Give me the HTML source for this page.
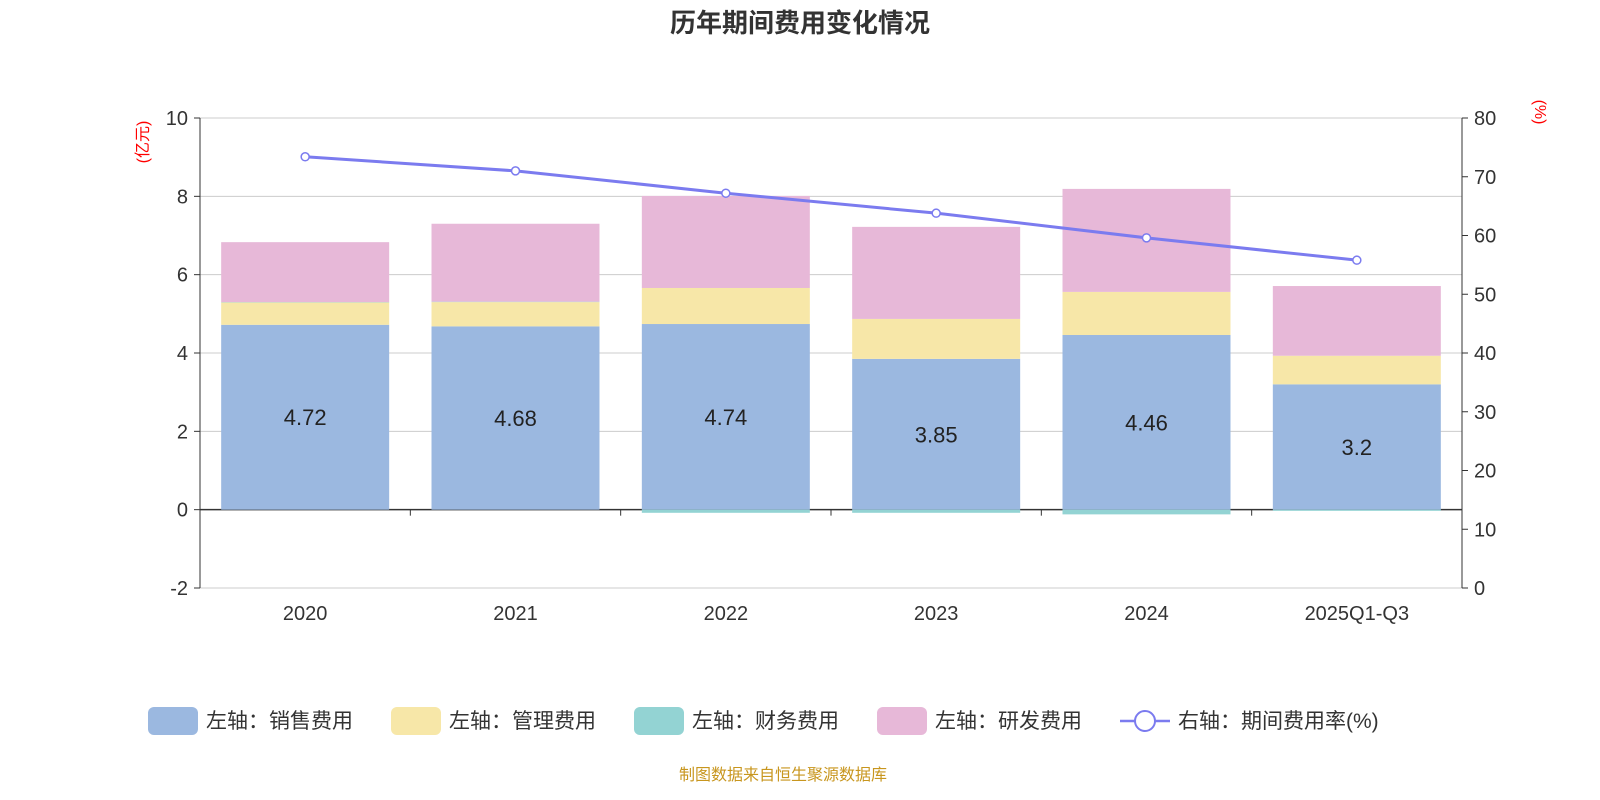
<!DOCTYPE html>
<html><head><meta charset="utf-8">
<style>
html,body{margin:0;padding:0;background:#fff;width:1600px;height:800px;overflow:hidden}
svg{display:block;font-family:"Liberation Sans","Noto Sans CJK SC",sans-serif}
</style></head>
<body>
<svg id="chart" width="1600" height="800"></svg>
<script>
const categories=["2020","2021","2022","2023","2024","2025Q1-Q3"];
const salesExp=[4.72,4.68,4.74,3.85,4.46,3.2];
const mgmtExp=[0.57,0.62,0.92,1.02,1.10,0.73];
const finExp=[0.01,0.01,-0.08,-0.08,-0.12,-0.03];
const rdExp=[1.53,1.99,2.35,2.35,2.63,1.78];
const expRate=[73.4,71.0,67.2,63.8,59.6,55.8];
const leftTicks=[-2,0,2,4,6,8,10];
const rightTicks=[0,10,20,30,40,50,60,70,80];

const NS="http://www.w3.org/2000/svg";
const svg=document.getElementById('chart');
function mk(tag,attrs,parent,text){const e=document.createElementNS(NS,tag);for(const k in attrs)e.setAttribute(k,attrs[k]);if(text!==undefined)e.textContent=text;(parent||svg).appendChild(e);return e;}
const X0=200,X1=1462,TOP=118,BOT=588;
const yL=v=>TOP+(10-v)/12*(BOT-TOP);
const yR=v=>BOT-v/80*(BOT-TOP);
const band=(X1-X0)/categories.length;
const xc=i=>X0+band*(i+0.5);
const barW=168;

let t=mk('text',{x:800,y:32,'text-anchor':'middle','font-size':26,'font-weight':'bold',fill:'#333'},svg,'历年期间费用变化情况');


// grid + left ticks
leftTicks.forEach(v=>{
 const g=mk('line',{x1:X0,x2:X1,y1:yL(v),y2:yL(v),stroke:v===0?'#333':'#ccc','stroke-width':v===0?1.5:1});
 
 mk('line',{x1:X0-6,x2:X0,y1:yL(v),y2:yL(v),stroke:'#333'});
 const l=mk('text',{x:X0-12,y:yL(v)+7,'text-anchor':'end','font-size':20,fill:'#333'},svg,String(v));
 
});
rightTicks.forEach(v=>{
 mk('line',{x1:X1,x2:X1+6,y1:yR(v),y2:yR(v),stroke:'#333'});
 const l=mk('text',{x:X1+12,y:yR(v)+7,'font-size':20,fill:'#333'},svg,String(v));
 
});
mk('line',{x1:X0,x2:X0,y1:TOP,y2:BOT,stroke:'#333'});
mk('line',{x1:X1,x2:X1,y1:TOP,y2:BOT,stroke:'#333'});
for(let i=0;i<=categories.length;i++)mk('line',{x1:X0+band*i,x2:X0+band*i,y1:yL(0),y2:yL(0)+6,stroke:'#333'});
let a=mk('text',{x:0,y:0,'font-size':16,fill:'red','text-anchor':'middle',transform:'translate(148,142) rotate(-90)'},svg,'(亿元)');

a=mk('text',{x:0,y:0,'font-size':16,fill:'red','text-anchor':'middle',transform:'translate(1535,112) rotate(90)'},svg,'(%)');


categories.forEach((c,i)=>{
 const l=mk('text',{x:xc(i),y:620,'text-anchor':'middle','font-size':20,fill:'#333'},svg,c);
 
 const x=xc(i)-barW/2;
 let base=0,nbase=0;
 const segs=[[salesExp[i],'#9bb8e0','bar-sales'],[mgmtExp[i],'#f7e7a8','bar-management'],[finExp[i],'#93d3d3','bar-finance'],[rdExp[i],'#e7b8d8','bar-rd']];
 segs.forEach(([v,col,name])=>{
  let y1,y2;
  if(v>=0){y1=yL(base+v);y2=yL(base);base+=v;}else{y1=yL(nbase);y2=yL(nbase+v);nbase+=v;}
  const r=mk('rect',{x:x,y:y1,width:barW,height:Math.max(0,y2-y1),fill:col});
  
 });
 const vl=mk('text',{x:xc(i),y:yL(salesExp[i]/2)+8,'text-anchor':'middle','font-size':22,fill:'#222'},svg,String(salesExp[i]));
 
});
const pts=expRate.map((v,i)=>xc(i)+','+yR(v)).join(' ');
const pl=mk('polyline',{points:pts,fill:'none',stroke:'#7b7bef','stroke-width':3});

expRate.forEach((v,i)=>{const c=mk('circle',{cx:xc(i),cy:yR(v),r:4,fill:'#fff',stroke:'#7b7bef','stroke-width':1.5});
 });

// legend
const leg=[['#9bb8e0','左轴：销售费用',148],['#f7e7a8','左轴：管理费用',391],['#93d3d3','左轴：财务费用',634],['#e7b8d8','左轴：研发费用',877]];
leg.forEach(([c,txt,x])=>{
 const g=mk('g',{});
 mk('rect',{x:x,y:707,width:50,height:28,rx:6,fill:c},g);
 mk('text',{x:x+58,y:728,'font-size':21,fill:'#333'},g,txt);
});
const g=mk('g',{});
mk('line',{x1:1120,x2:1170,y1:721,y2:721,stroke:'#7b7bef','stroke-width':2.5},g);
mk('circle',{cx:1145,cy:721,r:10,fill:'#fff',stroke:'#7b7bef','stroke-width':2},g);
mk('text',{x:1178,y:728,'font-size':21,fill:'#333'},g,'右轴：期间费用率(%)');
const s=mk('text',{x:783,y:780,'text-anchor':'middle','font-size':16,fill:'#c8961e'},svg,'制图数据来自恒生聚源数据库');

</script>
</body></html>
